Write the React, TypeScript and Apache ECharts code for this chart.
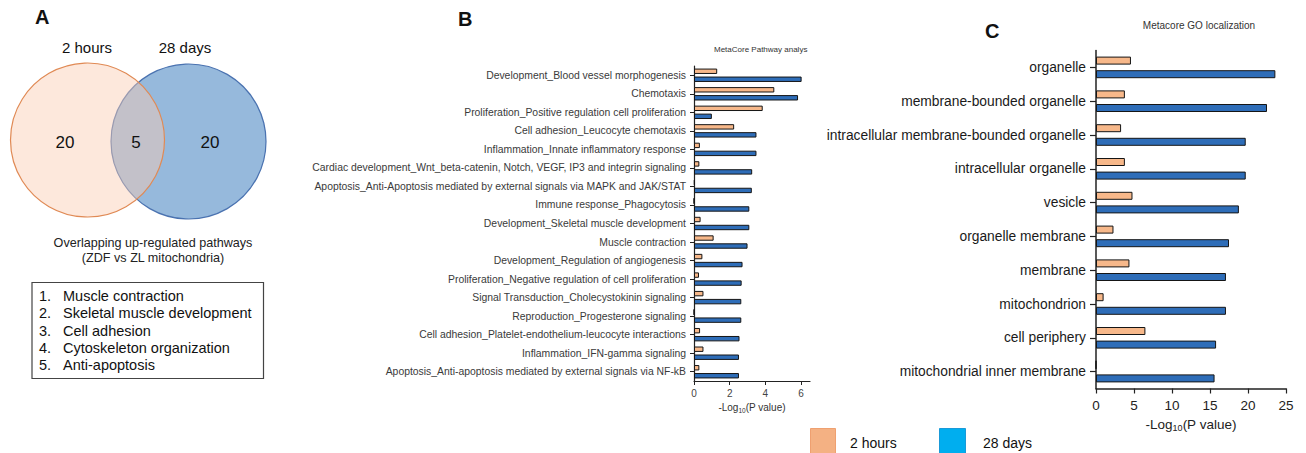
import React, { useEffect, useRef } from "react";
import * as echarts from "echarts";

const pathwayCategories = [
  "Development_Blood vessel morphogenesis",
  "Chemotaxis",
  "Proliferation_Positive regulation cell proliferation",
  "Cell adhesion_Leucocyte chemotaxis",
  "Inflammation_Innate inflammatory response",
  "Cardiac development_Wnt_beta-catenin, Notch, VEGF, IP3 and integrin signaling",
  "Apoptosis_Anti-Apoptosis mediated by external signals via MAPK and JAK/STAT",
  "Immune response_Phagocytosis",
  "Development_Skeletal muscle development",
  "Muscle contraction",
  "Development_Regulation of angiogenesis",
  "Proliferation_Negative regulation of cell proliferation",
  "Signal Transduction_Cholecystokinin signaling",
  "Reproduction_Progesterone signaling",
  "Cell adhesion_Platelet-endothelium-leucocyte interactions",
  "Inflammation_IFN-gamma signaling",
  "Apoptosis_Anti-apoptosis mediated by external signals via NF-kB",
];
const pathway2h = [1.3, 4.5, 3.85, 2.25, 0.33, 0.3, 0.04, 0, 0.37, 1.1, 0.47, 0.28, 0.53, 0, 0.34, 0.53, 0.3];
const pathway28d = [6.03, 5.83, 1.0, 3.5, 3.5, 3.26, 3.24, 3.1, 3.1, 3.0, 2.72, 2.67, 2.65, 2.65, 2.55, 2.52, 2.52];
const pathwayTicks = [0, 2, 4, 6];

const goCategories = [
  "organelle",
  "membrane-bounded organelle",
  "intracellular membrane-bounded organelle",
  "intracellular organelle",
  "vesicle",
  "organelle membrane",
  "membrane",
  "mitochondrion",
  "cell periphery",
  "mitochondrial inner membrane",
];
const go2h = [4.6, 3.8, 3.3, 3.8, 4.8, 2.3, 4.4, 1.0, 6.5, 0];
const go28d = [23.6, 22.5, 19.7, 19.7, 18.8, 17.5, 17.1, 17.1, 15.8, 15.6];

const overlapList = [
  "Muscle contraction",
  "Skeletal muscle development",
  "Cell adhesion",
  "Cytoskeleton organization",
  "Anti-apoptosis",
];
const vennCounts = [20, 5, 20];
const groupNames = ["2 hours", "28 days"];

const FONT = "Liberation Sans, Arial, Helvetica, sans-serif";
const ORANGE = "#F7B88A";
const BLUE = "#2E6DB8";

export default function App() {
  const ref = useRef<HTMLDivElement>(null);
  useEffect(() => {
    document.body.style.margin = "0";
    const chart = echarts.init(ref.current!, null, { renderer: "svg" });

    const barStyle = (c: string) => ({ color: c, borderColor: "#151515", borderWidth: 1 });

    const graphic: any[] = [
      // Panel letters
      { type: "text", left: 35, top: 7, style: { text: "A", font: `bold 20px ${FONT}`, fill: "#111" } },
      { type: "text", left: 458, top: 9, style: { text: "B", font: `bold 20px ${FONT}`, fill: "#111" } },
      { type: "text", left: 985, top: 21, style: { text: "C", font: `bold 20px ${FONT}`, fill: "#111" } },
      // Venn
      {
        type: "circle",
        shape: { cx: 188.5, cy: 141.5, r: 77.5 },
        style: { fill: "rgb(150,185,220)", stroke: "#4A72B0", lineWidth: 1.2 },
      },
      {
        type: "circle",
        shape: { cx: 87.5, cy: 140, r: 77 },
        style: { fill: "rgba(250,204,177,0.45)", stroke: "#E08A55", lineWidth: 1.2 },
      },
      { type: "text", x: 87, y: 47, style: { text: groupNames[0], font: `15px ${FONT}`, fill: "#111", align: "center", verticalAlign: "middle" } },
      { type: "text", x: 185, y: 47, style: { text: groupNames[1], font: `15px ${FONT}`, fill: "#111", align: "center", verticalAlign: "middle" } },
      { type: "text", x: 65, y: 142, style: { text: String(vennCounts[0]), font: `17px ${FONT}`, fill: "#111", align: "center", verticalAlign: "middle" } },
      { type: "text", x: 136, y: 142, style: { text: String(vennCounts[1]), font: `17px ${FONT}`, fill: "#111", align: "center", verticalAlign: "middle" } },
      { type: "text", x: 210, y: 142, style: { text: String(vennCounts[2]), font: `17px ${FONT}`, fill: "#111", align: "center", verticalAlign: "middle" } },
      { type: "text", x: 153, y: 243, style: { text: "Overlapping up-regulated pathways", font: `12.6px ${FONT}`, fill: "#222", align: "center", verticalAlign: "middle" } },
      { type: "text", x: 153, y: 258, style: { text: "(ZDF vs ZL mitochondria)", font: `12.6px ${FONT}`, fill: "#222", align: "center", verticalAlign: "middle" } },
      {
        type: "rect",
        shape: { x: 32, y: 282.5, width: 231.5, height: 96 },
        style: { fill: "none", stroke: "#444", lineWidth: 1.2 },
      },
      // Panel B title
      { type: "text", left: 714, top: 45, style: { text: "MetaCore Pathway analys", font: `8px ${FONT}`, fill: "#333" } },
      // Panel C title
      { type: "text", x: 1199, y: 25, style: { text: "Metacore GO localization", font: `10px ${FONT}`, fill: "#333", align: "center", verticalAlign: "middle" } },
      // Legend
      { type: "rect", shape: { x: 810.5, y: 428.5, width: 25, height: 30 }, style: { fill: "#F4B183", stroke: "#EFA070", lineWidth: 1 } },
      { type: "text", x: 850, y: 443, style: { text: groupNames[0], font: `14px ${FONT}`, fill: "#111", verticalAlign: "middle" } },
      { type: "rect", shape: { x: 939.5, y: 428.5, width: 26, height: 30 }, style: { fill: "#00AEEF", stroke: "#1A9AD8", lineWidth: 1 } },
      { type: "text", x: 983, y: 443, style: { text: groupNames[1], font: `14px ${FONT}`, fill: "#111", verticalAlign: "middle" } },
    ];
    overlapList.forEach((t, i) => {
      const y = 296 + i * 17.3;
      graphic.push({ type: "text", x: 39, y, style: { text: `${i + 1}.`, font: `14.5px ${FONT}`, fill: "#111", verticalAlign: "middle" } });
      graphic.push({ type: "text", x: 63, y, style: { text: t, font: `14.5px ${FONT}`, fill: "#111", verticalAlign: "middle" } });
    });

    const option: any = {
      animation: false,
      textStyle: { fontFamily: FONT },
      grid: [
        { left: 694, right: 496, top: 66, bottom: 72, containLabel: false, outerBoundsMode: "none" },
        { left: 1096, right: 20, top: 50.5, bottom: 64.5, containLabel: false, outerBoundsMode: "none" },
      ],
      xAxis: [
        {
          type: "value",
          gridIndex: 0,
          min: 0,
          max: 6.5,
          splitLine: { show: false },
          axisLine: { show: true, lineStyle: { color: "#222", width: 1.2 } },
          axisTick: { show: true, length: 4, customValues: pathwayTicks, lineStyle: { color: "#222" } },
          axisLabel: { customValues: pathwayTicks, fontSize: 10, color: "#444", margin: 7 },
          name: "-Log{sub|10}(P value)",
          nameLocation: "middle",
          nameGap: 19,
          nameTextStyle: { fontSize: 10, color: "#333", rich: { sub: { fontSize: 6.5, padding: [5, 0, 0, 0] } } },
        },
        {
          type: "value",
          gridIndex: 1,
          min: 0,
          max: 25,
          interval: 5,
          splitLine: { show: false },
          axisLine: { show: true, lineStyle: { color: "#222", width: 1.5 } },
          axisTick: { show: true, length: 5, lineStyle: { color: "#222", width: 1.2 } },
          axisLabel: { fontSize: 13.5, color: "#222", margin: 10 },
          name: "-Log{sub|10}(P value)",
          nameLocation: "middle",
          nameGap: 28,
          nameTextStyle: { fontSize: 13.5, color: "#222", rich: { sub: { fontSize: 9, padding: [7, 0, 0, 0] } } },
        },
      ],
      yAxis: [
        {
          type: "category",
          gridIndex: 0,
          data: pathwayCategories,
          inverse: true,
          axisLine: { show: true, lineStyle: { color: "#222", width: 1.2 } },
          axisTick: { show: true, length: 4, alignWithLabel: true, lineStyle: { color: "#222" } },
          axisLabel: { fontSize: 10.4, color: "#3a3a3a", margin: 8, interval: 0 },
        },
        {
          type: "category",
          gridIndex: 1,
          data: goCategories,
          inverse: true,
          axisLine: { show: true, lineStyle: { color: "#222", width: 1.5 } },
          axisTick: { show: true, length: 6, alignWithLabel: true, lineStyle: { color: "#222", width: 1.2 } },
          axisLabel: { fontSize: 13.8, color: "#1a1a1a", margin: 10, interval: 0 },
        },
      ],
      series: [
        {
          type: "bar",
          name: groupNames[0],
          xAxisIndex: 0,
          yAxisIndex: 0,
          data: pathway2h,
          barWidth: 5.4,
          barGap: "48%",
          itemStyle: barStyle(ORANGE),
        },
        {
          type: "bar",
          name: groupNames[1],
          xAxisIndex: 0,
          yAxisIndex: 0,
          data: pathway28d,
          barWidth: 5.4,
          barGap: "48%",
          itemStyle: barStyle(BLUE),
        },
        {
          type: "bar",
          name: groupNames[0],
          xAxisIndex: 1,
          yAxisIndex: 1,
          data: go2h,
          barWidth: 8,
          barGap: "70%",
          itemStyle: barStyle(ORANGE),
        },
        {
          type: "bar",
          name: groupNames[1],
          xAxisIndex: 1,
          yAxisIndex: 1,
          data: go28d,
          barWidth: 8,
          barGap: "70%",
          itemStyle: barStyle(BLUE),
        },
      ],
      graphic,
    };
    chart.setOption(option);
    return () => chart.dispose();
  }, []);
  return <div ref={ref} style={{ width: 1306, height: 453 }} />;
}
